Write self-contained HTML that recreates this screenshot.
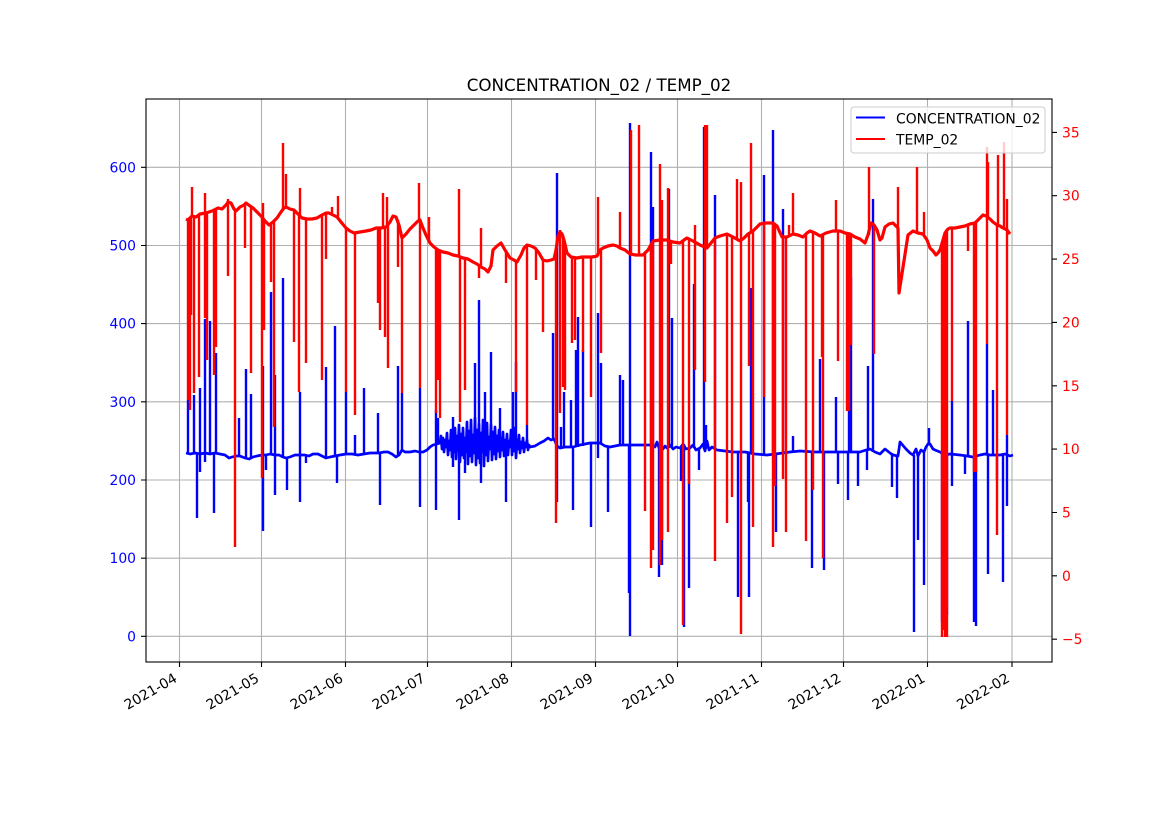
<!DOCTYPE html>
<html>
<head>
<meta charset="utf-8">
<style>
html,body{margin:0;padding:0;background:#fff;}
svg{display:block;}
text{font-family:"DejaVu Sans","Liberation Sans",sans-serif;}
</style>
</head>
<body>
<svg width="1169" height="827" viewBox="0 0 1169 827" xmlns="http://www.w3.org/2000/svg">
<rect x="0" y="0" width="1169" height="827" fill="#fff"/>
<defs><clipPath id="ax"><rect x="146" y="99" width="906" height="563"/></clipPath></defs>

<!-- grid -->
<g stroke="#b0b0b0" stroke-width="1.1" fill="none">
<path d="M179.5,99V662 M261.5,99V662 M345.5,99V662 M427.5,99V662 M511.5,99V662 M595.5,99V662 M677.5,99V662 M761.5,99V662 M843.5,99V662 M927.5,99V662 M1012,99V662"/>
<path d="M146,636.3H1052 M146,558.2H1052 M146,480H1052 M146,401.8H1052 M146,323.6H1052 M146,245.5H1052 M146,167.3H1052"/>
</g>

<g clip-path="url(#ax)" fill="none" stroke-linejoin="round">
<!-- blue series -->
<path stroke="#0000ff" stroke-width="2.7" d="M186,453 L190,454 195,453 200,454 205,453 210,454 215,453 220,454 225,455 229,458 232,457 236,456 240,456 245,458 249,459 253,457 257,456 262,455 266,455 270,454 275,455 279,455 283,457 286,458 290,457 295,455 300,455 305,455 309,456 313,454 318,454 322,456 326,458 330,457 335,456 340,455 346,454 352,454 358,455 364,454 370,453 375,453 379,453 384,452 388,452 392,454 396,457 399,455 402,450 405,452 410,452 415,451 419,452 423,452 427,450 430,447 433,445 437,444 440,443 441,436 442,449 443,438 444,452 445,440 446,447 447,433 448,455 449,441 450,450 451,430 452,457 453,439 454,452 455,428 456,459 457,436 458,451 459,425 460,462 461,434 462,455 463,428 464,458 465,438 466,452 467,422 468,464 469,431 470,456 471,420 472,462 473,435 474,453 475,418 476,465 477,430 478,458 479,424 480,463 481,433 482,452 483,420 484,466 485,428 486,455 487,423 488,461 489,437 490,449 491,425 492,460 493,432 494,454 495,427 496,459 497,436 498,451 499,430 500,457 501,438 502,450 503,432 504,456 505,440 506,449 507,434 508,455 509,441 510,447 511,430 512,455 513,437 514,451 515,428 516,458 517,440 518,449 519,435 520,453 521,442 522,448 523,438 524,452 525,443 526,447 527,440 528,450 529,445 530,447 535,446 540,443 544,441 548,438 551,440 554,439 557,446 560,448 565,447 573,447 580,445 590,443 600,443 605,446 610,447 620,445 630,445 640,445 650,445 655,447 657,442 659,448 661,444 663,449 665,446 667,448 670,445 673,449 676,447 680,448 683,444 686,449 690,448 693,445 696,450 700,448 703,444 705,451 707,441 709,450 712,447 717,450 725,451 733,452 745,452 755,454 767,455 775,454 783,453 790,452 800,451 815,452 833,452 845,452 860,452 866,450 870,449 875,452 880,454 885,449 890,453 893,455 898,456 900,442 906,449 910,453 913,455 916,449 918,456 921,450 924,452 926,447 928,444 930,444 933,449 935,450 940,452 945,455 950,454 960,455 967,456 973,457 980,455 985,454 990,455 1000,455 1005,454 1010,456 1013,455"/>
<path stroke="#0000ff" stroke-width="2.4" d="M188,453V400 M194,453V395 M200,454V388 M205,453V319 M210,454V321 M216,453V353 M239,456V418 M246,458V369 M251,458V394 M263,455V366 M271,454V292 M275,455V375 M283,457V278 M300,455V392 M326,458V367 M335,456V326 M346,454V392 M355,454V435 M364,454V388 M378,453V413 M398,456V366 M402,450V393 M420,452V388 M436,444V410 M438,444V418 M453,445V417 M475,445V363 M479,445V300 M485,445V392 M491,445V352 M500,445V408 M513,445V392 M516,445V362 M527,445V425 M553,440V333 M557,446V173 M561,448V427 M564,447V392 M571,447V400 M576,447V350 M578,447V317 M583,446V350 M598,443V313 M601,443V363 M620,445V375 M623,445V380 M630,445V123 M651,445V152 M653,445V207 M669,448V189 M672,448V318 M694,448V284 M704,449V127 M706,449V425 M715,450V195 M751,453V288 M764,455V175 M773,454V130 M783,453V209 M793,452V436 M820,452V359 M836,452V397 M849,452V277 M851,452V277 M868,451V366 M873,452V199 M929,444V428 M943,452V383 M952,454V401 M968,456V321 M987,454V344 M993,455V390 M1007,454V435"/>
<path stroke="#0000ff" stroke-width="2.4" d="M197,453V518 M200,454V472 M205,453V462 M214,453V513 M263,455V531 M266,455V470 M275,455V495 M287,458V490 M300,455V502 M306,455V463 M337,456V483 M380,453V505 M420,452V507 M436,444V510 M453,445V467 M459,445V520 M465,445V473 M481,445V483 M506,445V502 M557,446V502 M573,447V510 M591,443V527 M598,443V458 M608,446V512 M629,445V593 M630,445V636 M659,448V577 M662,449V565 M681,448V481 M684,444V627 M689,448V588 M699,448V470 M738,452V597 M748,452V502 M749,452V597 M776,454V532 M812,452V568 M824,452V570 M838,452V484 M848,452V500 M858,452V486 M867,450V470 M892,453V487 M897,455V498 M914,455V632 M918,456V540 M924,452V585 M942,452V622 M944,453V610 M947,455V615 M952,454V486 M965,455V474 M974,457V622 M976,456V626 M988,455V574 M997,455V480 M1003,455V582 M1007,454V506"/>

<!-- red series -->
<path stroke="#ff0000" stroke-width="3.2" d="M186,219 L188,220 192,216 196,217 200,214 206,213 212,211 218,208 222,209 226,205 228,202 231,203 234,209 236,211 240,207 244,205 246,203 250,206 253,208 257,212 261,216 265,221 269,225 273,222 277,218 281,212 284,208 286,207 290,209 294,210 298,214 302,218 307,219 312,219 317,218 322,215 326,213 329,213 333,215 337,217 341,222 346,228 350,231 354,233 360,232 366,231 371,230 376,228 381,228 386,227 390,222 393,216 396,217 399,225 402,238 406,234 410,229 414,225 418,221 420,220 423,228 426,235 430,243 434,247 438,250 443,252 448,253 453,255 458,256 463,258 468,259 473,262 477,264 481,267 485,269 488,272 491,266 493,250 497,246 501,243 505,250 510,258 514,260 517,262 521,255 524,248 527,245 531,246 535,248 539,253 543,260 547,261 551,260 554,259 556,250 558,236 560,232 562,234 564,240 567,253 571,257 577,258 582,257 587,257 592,257 597,256 600,250 603,248 608,246 613,245 617,246 620,248 625,250 630,254 636,255 643,255 648,250 653,241 660,240 667,240 673,242 680,243 684,240 687,238 693,241 700,245 707,248 711,243 715,238 720,236 727,234 733,237 740,241 744,238 748,234 753,231 757,227 760,224 766,223 773,223 777,226 782,237 787,237 793,234 798,235 803,237 807,233 810,231 815,233 820,236 826,233 833,231 840,231 845,233 850,234 855,237 860,239 865,243 868,235 871,223 874,225 877,230 880,240 882,238 885,227 889,224 893,223 896,226 898,228 899,293 908,235 913,231 918,233 923,234 927,240 930,248 933,251 936,255 938,253 940,250 943,240 945,233 948,229 950,228 955,228 960,227 965,226 970,224 975,223 980,218 983,215 986,216 990,219 993,222 997,225 1000,226 1003,228 1007,230 1010,234"/>
<path stroke="#ff0000" stroke-width="2.4" d="M188,220V400 M190,217V410 M191,216V315 M194,216V393 M199,214V377 M205,213V318 M207,213V360 M214,211V375 M216,210V347 M228,202V276 M235,210V547 M245,204V248 M251,206V373 M262,217V478 M264,220V330 M271,223V282 M274,221V427 M294,210V342 M299,214V392 M306,219V363 M322,215V380 M326,213V259 M346,228V392 M355,233V415 M378,228V303 M380,228V330 M385,227V337 M388,225V368 M398,220V267 M402,238V393 M420,220V388 M436,248V413 M438,250V380 M440,251V418 M460,256V422 M465,258V390 M479,265V278 M506,252V283 M516,261V392 M527,245V425 M536,249V280 M543,260V332 M556,250V523 M560,232V413 M563,235V387 M565,245V390 M572,257V343 M575,258V340 M583,257V352 M591,257V397 M601,249V353 M645,254V511 M651,245V568 M653,241V550 M660,240V565 M662,240V540 M668,240V532 M671,241V264 M683,241V625 M689,239V484 M695,242V370 M705,247V382 M715,238V561 M727,234V523 M732,236V497 M741,240V634 M749,234V366 M753,231V527 M764,223V397 M773,223V547 M775,224V486 M783,237V479 M786,237V532 M806,235V541 M813,232V490 M822,235V357 M823,235V558 M838,231V361 M847,233V411 M849,234V411 M851,235V345 M874,225V354 M942,245V637 M943,240V630 M944,236V600 M945,233V637 M946,230V587 M947,229V637 M952,228V401 M968,225V251 M974,223V472 M976,222V472 M987,216V344 M997,225V535 M1007,230V435"/>
<path stroke="#ff0000" stroke-width="2.4" d="M192,216V187 M205,213V193 M228,202V199 M263,218V203 M283,210V143 M286,207V174 M300,216V188 M332,214V207 M338,218V196 M383,227V193 M387,226V197 M419,221V183 M429,240V217 M459,256V189 M481,267V228 M560,232V230 M598,256V197 M620,248V212 M631,254V130 M639,255V125 M660,240V164 M662,240V200 M668,240V188 M695,242V225 M705,246V125 M707,248V125 M737,239V179 M741,240V182 M751,232V143 M789,236V225 M793,234V193 M836,231V200 M869,235V167 M898,228V187 M917,232V167 M924,234V212 M987,216V147 M988,217V162 M998,225V155 M1004,228V142 M1007,230V199"/>
</g>

<!-- spines -->
<rect x="146" y="99" width="906" height="563" fill="none" stroke="#000" stroke-width="1.1"/>

<!-- ticks -->
<g stroke="#000" stroke-width="1.1">
<path d="M179.5,662V667 M261.5,662V667 M345.5,662V667 M427.5,662V667 M511.5,662V667 M595.5,662V667 M677.5,662V667 M761.5,662V667 M843.5,662V667 M927.5,662V667 M1012,662V667"/>
<path d="M141,636.3H146 M141,558.2H146 M141,480H146 M141,401.8H146 M141,323.6H146 M141,245.5H146 M141,167.3H146"/>
<path d="M1052,639.2H1057 M1052,575.8H1057 M1052,512.5H1057 M1052,449.1H1057 M1052,385.8H1057 M1052,322.4H1057 M1052,259.1H1057 M1052,195.7H1057 M1052,132.4H1057"/>
</g>

<!-- left tick labels -->
<g fill="#0000ff" font-size="13.9" text-anchor="end">
<text x="136" y="641.3">0</text>
<text x="136" y="563.2">100</text>
<text x="136" y="485">200</text>
<text x="136" y="406.8">300</text>
<text x="136" y="328.6">400</text>
<text x="136" y="250.5">500</text>
<text x="136" y="172.3">600</text>
</g>

<!-- right tick labels -->
<g fill="#ff0000" font-size="13.9" text-anchor="start">
<text x="1062" y="644.2">−5</text>
<text x="1062" y="580.8">0</text>
<text x="1062" y="517.5">5</text>
<text x="1062" y="454.1">10</text>
<text x="1062" y="390.8">15</text>
<text x="1062" y="327.4">20</text>
<text x="1062" y="264.1">25</text>
<text x="1062" y="200.7">30</text>
<text x="1062" y="137.4">35</text>
</g>

<!-- x tick labels -->
<g fill="#000" font-size="13.9" text-anchor="end">
<text x="178" y="681" transform="rotate(-30 178 681)">2021-04</text>
<text x="260" y="681" transform="rotate(-30 260 681)">2021-05</text>
<text x="344" y="681" transform="rotate(-30 344 681)">2021-06</text>
<text x="426" y="681" transform="rotate(-30 426 681)">2021-07</text>
<text x="510" y="681" transform="rotate(-30 510 681)">2021-08</text>
<text x="594" y="681" transform="rotate(-30 594 681)">2021-09</text>
<text x="676" y="681" transform="rotate(-30 676 681)">2021-10</text>
<text x="760" y="681" transform="rotate(-30 760 681)">2021-11</text>
<text x="842" y="681" transform="rotate(-30 842 681)">2021-12</text>
<text x="926" y="681" transform="rotate(-30 926 681)">2022-01</text>
<text x="1010.5" y="681" transform="rotate(-30 1010.5 681)">2022-02</text>
</g>

<!-- title -->
<text x="599" y="91" font-size="16.7" text-anchor="middle" fill="#000">CONCENTRATION_02 / TEMP_02</text>

<!-- legend -->
<rect x="851" y="107" width="194" height="46" rx="3" ry="3" fill="#fff" fill-opacity="0.8" stroke="#cccccc" stroke-width="1"/>
<path d="M856,117.5H885" stroke="#0000ff" stroke-width="2.1"/>
<path d="M856,139H885" stroke="#ff0000" stroke-width="2.1"/>
<text x="896" y="123.3" font-size="13.9" fill="#000">CONCENTRATION_02</text>
<text x="896" y="144.3" font-size="13.9" fill="#000">TEMP_02</text>
</svg>
</body>
</html>
